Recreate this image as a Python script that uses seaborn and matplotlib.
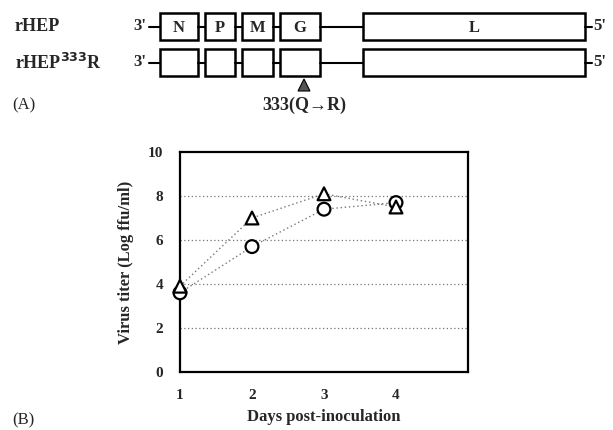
import matplotlib
matplotlib.use("Agg")
import matplotlib.pyplot as plt
import seaborn as sns
import pandas as pd
from matplotlib.patches import Rectangle, Polygon

sns.set_theme(style="white")
plt.rcParams['font.family'] = ['Liberation Serif', 'DejaVu Serif']
plt.rcParams['font.weight'] = 'bold'

# ---- data ----
days = [1, 2, 3, 4]
circle_titer = [3.6, 5.7, 7.4, 7.7]
triangle_titer = [3.9, 7.0, 8.1, 7.5]
x_ticks = [1, 2, 3, 4]
y_ticks = [0, 2, 4, 6, 8, 10]
genes = ["N", "P", "M", "G", "L"]
row_labels = ["rHEP", "rHEP$^{333}$R"]
mutation_label = "333(Q\u2192R)"

df = pd.DataFrame({
    "day": days * 2,
    "titer": circle_titer + triangle_titer,
    "virus": ["circle"] * 4 + ["triangle"] * 4,
})

W, H = 613, 430
fig = plt.figure(figsize=(W / 100, H / 100), dpi=100)

# ---- panel A: genome diagram (pixel coordinates) ----
axd = fig.add_axes([0, 0, 1, 1])
axd.set_xlim(0, W)
axd.set_ylim(H, 0)
axd.axis("off")

box_x = [(160, 198), (205, 235), (242, 273), (280, 320), (363, 585)]
rows = [(13, 40), (49, 76)]
for r, (y0, y1) in enumerate(rows):
    yc = (y0 + y1) / 2
    axd.text(15, yc, row_labels[r], ha="left", va="center", fontsize=13, fontweight="bold")
    axd.text(133, yc, "3'", ha="left", va="center", fontsize=12, fontweight="bold")
    axd.plot([149, 160], [yc, yc], color="black", lw=1.5)
    prev = None
    for i, (xa, xb) in enumerate(box_x):
        axd.add_patch(Rectangle((xa, y0), xb - xa, y1 - y0, fill=False, ec="black", lw=1.8))
        if prev is not None:
            axd.plot([prev, xa], [yc, yc], color="black", lw=1.5)
        prev = xb
        if r == 0:
            axd.text((xa + xb) / 2, yc + 1, genes[i], ha="center", va="center",
                     fontsize=12, fontweight="bold")
    axd.plot([585, 592], [yc, yc], color="black", lw=1.5)
    axd.text(593, yc, "5'", ha="left", va="center", fontsize=12, fontweight="bold")

axd.add_patch(Polygon([[298, 91], [310, 91], [304, 79]], closed=True, fc="#555555", ec="black", lw=0.8))
axd.text(304, 105, mutation_label, ha="center", va="center", fontsize=13, fontweight="bold")
axd.text(12, 105, "(A)", ha="left", va="center", fontsize=12, fontweight="normal")
axd.text(12, 420, "(B)", ha="left", va="center", fontsize=12, fontweight="normal")

# ---- panel B: growth curve ----
L, R, T, B = 180, 468, 152, 372
ax = fig.add_axes([L / W, 1 - B / H, (R - L) / W, (B - T) / H])
sns.lineplot(data=df, x="day", y="titer", hue="virus", style="virus",
             palette=["#777777", "#777777"], dashes=[(1, 2), (1, 2)],
             markers=False, lw=1.0, legend=False, ax=ax)
sns.scatterplot(data=df, x="day", y="titer", style="virus", markers=["o", "^"],
                facecolor="white", edgecolor="black", linewidth=1.6, s=85,
                legend=False, ax=ax, zorder=5, clip_on=False)
ax.set_xlim(1, 5)
ax.set_ylim(0, 10)
ax.set_xticks(x_ticks)
ax.set_yticks(y_ticks)
for yv in y_ticks[1:-1]:
    ax.axhline(yv, color="#777777", lw=0.9, ls=(0, (1, 2)), zorder=0)
ax.tick_params(axis="both", direction="in", length=3, width=1, labelsize=11, pad=12)
for lab in ax.get_xticklabels() + ax.get_yticklabels():
    lab.set_fontweight("bold")
for sp in ax.spines.values():
    sp.set_color("black")
    sp.set_linewidth(1.6)
ax.set_xlabel("Days post-inoculation", fontsize=12, fontweight="bold", labelpad=5)
ax.set_ylabel("Virus titer (Log ffu/ml)", fontsize=12, fontweight="bold", labelpad=10)

fig.savefig("out.png", dpi=100)
